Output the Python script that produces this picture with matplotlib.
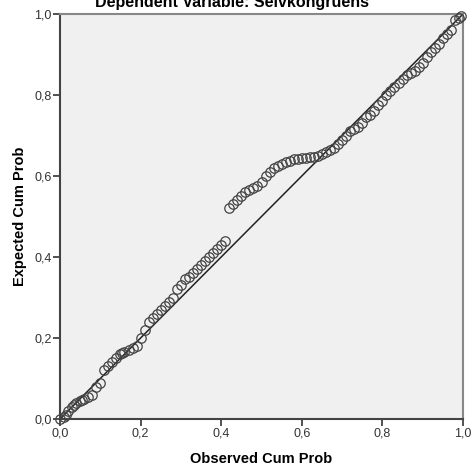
import matplotlib.pyplot as plt
from matplotlib.ticker import FuncFormatter

plt.rcParams['font.family'] = ['Liberation Sans', 'DejaVu Sans']

# Normal P-P plot of regression standardized residuals
observed = [0.00, 0.01, 0.015, 0.02, 0.03, 0.035, 0.04, 0.05, 0.055, 0.06, 0.07, 0.08, 0.09,
            0.10, 0.11, 0.12, 0.13, 0.14, 0.15, 0.155, 0.16, 0.17, 0.18, 0.19,
            0.20, 0.21, 0.22, 0.23, 0.24, 0.25, 0.26, 0.27, 0.28, 0.29,
            0.30, 0.31, 0.32, 0.33, 0.34, 0.35, 0.36, 0.37, 0.38, 0.39,
            0.40, 0.41,
            0.42, 0.43, 0.44, 0.45, 0.46, 0.47, 0.48, 0.49, 0.50, 0.51,
            0.52, 0.53, 0.54, 0.55, 0.56, 0.57, 0.58, 0.59, 0.60, 0.61,
            0.62, 0.63, 0.64, 0.65, 0.66, 0.67, 0.68, 0.69, 0.70, 0.71,
            0.72, 0.73, 0.74, 0.75, 0.76, 0.77, 0.78, 0.79, 0.80, 0.81,
            0.82, 0.83, 0.84, 0.85, 0.86, 0.87, 0.88, 0.89, 0.90, 0.91,
            0.92, 0.93, 0.94, 0.95, 0.96, 0.97, 0.98, 0.99, 0.995]
expected = [0.000, 0.005, 0.010, 0.020, 0.030, 0.035, 0.040, 0.045, 0.048, 0.050, 0.055, 0.060, 0.080,
            0.090, 0.120, 0.130, 0.140, 0.150, 0.160, 0.162, 0.165, 0.170, 0.175, 0.180,
            0.200, 0.220, 0.240, 0.250, 0.260, 0.270, 0.280, 0.290, 0.300, 0.320,
            0.330, 0.345, 0.350, 0.360, 0.370, 0.380, 0.390, 0.400, 0.410, 0.420,
            0.430, 0.440,
            0.520, 0.530, 0.540, 0.550, 0.560, 0.565, 0.570, 0.575, 0.585, 0.600,
            0.610, 0.620, 0.625, 0.630, 0.635, 0.638, 0.641, 0.643, 0.644, 0.645,
            0.646, 0.647, 0.650, 0.655, 0.660, 0.665, 0.670, 0.680, 0.690, 0.700,
            0.710, 0.715, 0.720, 0.730, 0.745, 0.750, 0.760, 0.775, 0.785, 0.800,
            0.810, 0.820, 0.830, 0.840, 0.850, 0.855, 0.860, 0.870, 0.880, 0.895,
            0.905, 0.915, 0.925, 0.940, 0.950, 0.960, 0.985, 0.990, 0.995]
ticks = [0.0, 0.2, 0.4, 0.6, 0.8, 1.0]

fig = plt.figure(figsize=(4.75, 4.70), dpi=100)
ax = fig.add_axes([60 / 475, 51 / 470, 403 / 475, 405 / 470])
ax.set_facecolor('#f0f0f0')

ax.plot([0, 1], [0, 1], color='#222222', linewidth=1.1, zorder=2)
ax.plot(observed, expected, linestyle='none', marker='o', markersize=6.8,
        markerfacecolor='none', markeredgecolor='#444444', markeredgewidth=0.9,
        zorder=3, clip_on=False)

ax.set_xlim(0, 1)
ax.set_ylim(0, 1)
ax.set_xticks(ticks)
ax.set_yticks(ticks)
fmt = FuncFormatter(lambda v, pos: f'{v:.1f}'.replace('.', ','))
ax.xaxis.set_major_formatter(fmt)
ax.yaxis.set_major_formatter(fmt)
ax.tick_params(direction='out', length=5, width=1.2, color='#333333',
               labelsize=9, labelcolor='#333333', pad=1)

for side in ['left', 'bottom']:
    ax.spines[side].set_color('#444444')
    ax.spines[side].set_linewidth(1.5)
for side in ['right', 'top']:
    ax.spines[side].set_color('#888888')
    ax.spines[side].set_linewidth(1.5)

ax.set_xlabel('Observed Cum Prob', fontsize=10.5, fontweight='bold', labelpad=9)
ax.set_ylabel('Expected Cum Prob', fontsize=10.5, fontweight='bold', labelpad=5)

# title is cropped at the top edge in the original export
fig.text(0.489, 1.0 - 2 / 470, 'Dependent Variable: Selvkongruens', ha='center', va='center',
         fontsize=11.5, fontweight='bold')

fig.savefig('out.png', dpi=100)
